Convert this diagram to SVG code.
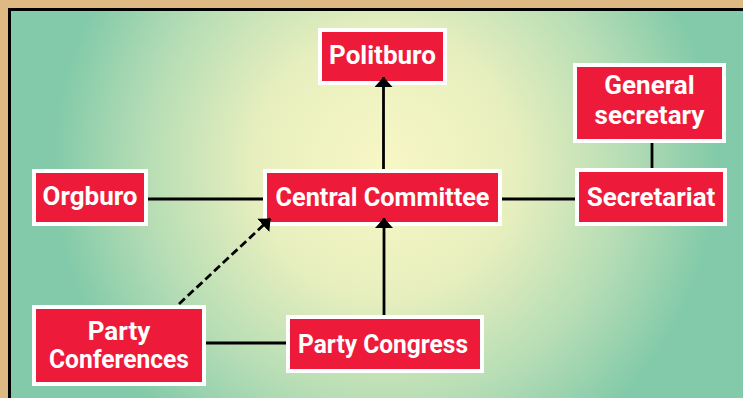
<svg xmlns="http://www.w3.org/2000/svg" width="743" height="398" viewBox="0 0 743 398">
<style>
.box{fill:#ED1B39;stroke:#FFFFFF;stroke-width:4}
.lbl{font-family:Roboto,"Liberation Sans",sans-serif;font-weight:700;font-size:26px;fill:#FFFFFF;text-anchor:middle}
.ln{stroke:#000000;stroke-width:2.8;fill:none}
.dash{stroke-dasharray:8 4}
</style>
<defs>
<radialGradient id="bg" gradientUnits="userSpaceOnUse" cx="385" cy="165" r="370">
<stop offset="0" stop-color="#F8F7C6"/>
<stop offset="0.35" stop-color="#E8EFBE"/>
<stop offset="0.65" stop-color="#B6DDB5"/>
<stop offset="0.9" stop-color="#82CAA9"/>
<stop offset="1" stop-color="#82CAA9"/>
</radialGradient>
<marker id="ah" viewBox="0 0 10 18" refX="10" refY="9" markerWidth="10" markerHeight="18" orient="auto" markerUnits="userSpaceOnUse">
<path d="M0,0 L10,9 L0,18 z" fill="#000000"/>
</marker>
</defs>
<rect x="0" y="0" width="743" height="398" fill="#DFB984"/>
<rect x="8" y="8" width="735" height="390" fill="#000000"/>
<rect x="11" y="11" width="732" height="387" fill="url(#bg)"/>

<g id="politburo"><rect class="box" x="320" y="30" width="125" height="53"/><text class="lbl" x="382.5" y="64">Politburo</text></g>
<g id="general-secretary"><rect class="box" x="575" y="65" width="149" height="76"/><text class="lbl" x="649.5" y="94">General</text><text class="lbl" x="649.5" y="124">secretary</text></g>
<g id="secretariat"><rect class="box" x="577" y="170" width="148" height="54"/><text class="lbl" x="651" y="206">Secretariat</text></g>
<g id="orgburo"><rect class="box" x="34" y="171" width="112" height="53"/><text class="lbl" x="90" y="205">Orgburo</text></g>
<g id="central-committee"><rect class="box" x="265" y="171" width="235" height="53"/><text class="lbl" x="382.5" y="205.5" textLength="214" lengthAdjust="spacingAndGlyphs">Central Committee</text></g>
<g id="party-conferences"><rect class="box" x="34" y="307" width="170" height="77"/><text class="lbl" x="119" y="340">Party</text><text class="lbl" x="119" y="368" textLength="140" lengthAdjust="spacingAndGlyphs">Conferences</text></g>
<g id="party-congress"><rect class="box" x="288" y="317" width="194" height="54"/><text class="lbl" x="383" y="352.5" textLength="170" lengthAdjust="spacingAndGlyphs">Party Congress</text></g>

<g id="connectors">
<line class="ln" x1="383.5" y1="169" x2="383.5" y2="77" marker-end="url(#ah)"/>
<line class="ln" x1="384" y1="315" x2="384" y2="218" marker-end="url(#ah)"/>
<line class="ln dash" x1="179" y1="304" x2="270.5" y2="218.5" marker-end="url(#ah)"/>
<line class="ln" x1="148" y1="199" x2="263" y2="199"/>
<line class="ln" x1="502" y1="199" x2="575" y2="199"/>
<line class="ln" x1="652" y1="143" x2="652" y2="168"/>
<line class="ln" x1="206" y1="343" x2="286" y2="343"/>
</g>
</svg>
